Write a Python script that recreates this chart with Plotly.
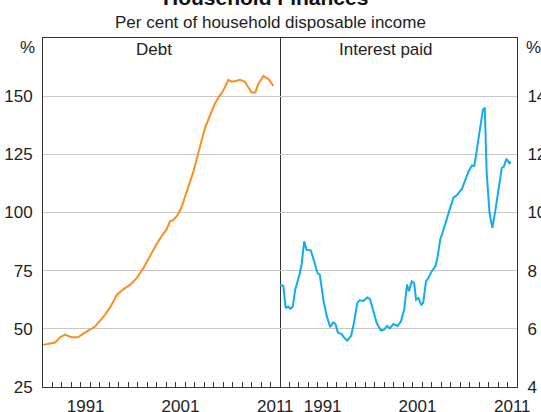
import plotly.graph_objects as go

# Household debt, per cent of disposable income (decimal year, value)
debt_year = [1987.03, 1988.27, 1988.8, 1989.3, 1990.0, 1990.7, 1991.4, 1992.0, 1992.5,
             1993.4, 1994.1, 1994.8, 1995.5, 1996.2, 1996.9, 1997.6, 1998.3, 1999.0,
             1999.5, 2000.05, 2000.4, 2000.75, 2001.2, 2001.6, 2002.0, 2002.5, 2002.9,
             2003.2, 2003.56, 2004.1, 2004.6, 2005.1, 2005.5, 2006.0, 2006.55, 2006.9,
             2007.4, 2007.8, 2008.3, 2008.65, 2009.0, 2009.4, 2009.7, 2010.25, 2010.8,
             2011.3]
debt_value = [43.1, 44.1, 46.4, 47.5, 46.4, 46.4, 48.4, 49.9, 51.0,
              55.3, 59.3, 64.7, 67.1, 69.0, 71.9, 76.2, 81.5, 86.6,
              89.8, 92.7, 96.3, 96.7, 99.0, 102.0, 107.0, 113.0, 118.0,
              122.8, 128.6, 136.5, 141.5, 146.6, 149.4, 152.3, 157.0, 156.2,
              156.6, 157.0, 156.2, 153.8, 151.6, 151.6, 155.2, 158.7, 157.3,
              154.4]

# Interest paid, per cent of disposable income (decimal year, value)
interest_year = [1987.0, 1987.35, 1987.6, 1987.85, 1988.1, 1988.35, 1988.6, 1989.05, 1989.3,
                 1989.55, 1989.8, 1990.25, 1990.6, 1990.95, 1991.2, 1991.6, 1991.95, 1992.3,
                 1992.6, 1992.85, 1993.1, 1993.5, 1993.8, 1994.1, 1994.5, 1994.8, 1995.15,
                 1995.4, 1995.8, 1996.2, 1996.5, 1996.8, 1997.2, 1997.65, 1997.97, 1998.3,
                 1998.6, 1998.95, 1999.4, 1999.75, 2000.1, 2000.4, 2000.6, 2000.9, 2001.15,
                 2001.35, 2001.6, 2001.9, 2002.1, 2002.4, 2002.65, 2003.0, 2003.4, 2003.6,
                 2003.9, 2004.25, 2004.6, 2004.95, 2005.3, 2005.65, 2006.2, 2006.55, 2006.9,
                 2007.25, 2007.5, 2007.85, 2008.15, 2008.4, 2008.6, 2008.8, 2009.1, 2009.4,
                 2009.7, 2010.05, 2010.4, 2010.6, 2010.9, 2011.2, 2011.35]
interest_value = [7.52, 7.48, 6.71, 6.77, 6.69, 6.77, 7.34, 7.86, 8.26,
                  9.01, 8.72, 8.70, 8.32, 7.92, 7.86, 6.94, 6.42, 6.06,
                  6.22, 6.17, 5.87, 5.82, 5.68, 5.60, 5.76, 6.20, 6.89,
                  6.98, 6.96, 7.08, 7.02, 6.66, 6.20, 5.94, 5.97, 6.10,
                  6.02, 6.17, 6.10, 6.25, 6.66, 7.52, 7.29, 7.63, 7.57,
                  7.00, 7.06, 6.83, 6.89, 7.63, 7.75, 7.98, 8.15, 8.44,
                  9.07, 9.41, 9.82, 10.16, 10.51, 10.59, 10.82, 11.14, 11.42,
                  11.62, 11.60, 12.34, 13.03, 13.53, 13.61, 11.37, 9.99, 9.47,
                  10.04, 10.79, 11.54, 11.57, 11.85, 11.69, 11.75]

left_ticks = [25, 50, 75, 100, 125, 150]
right_ticks = [4, 6, 8, 10, 12, 14]
year_labels = ["1991", "2001", "2011"]
year_label_pos = [1991.5, 2001.5, 2011.5]
year_ticks = list(range(1988, 2012))

FONT = "Liberation Sans, Arial, sans-serif"
TXT = "#222222"
LINE = "#333333"
GRID = "#c8c8c8"
FS = 17

fig = go.Figure()
fig.add_trace(go.Scatter(x=debt_year, y=debt_value, mode="lines",
                         line=dict(color="#F7901E", width=2), xaxis="x", yaxis="y",
                         showlegend=False, hoverinfo="skip"))
fig.add_trace(go.Scatter(x=interest_year, y=interest_value, mode="lines",
                         line=dict(color="#12ACEC", width=2), xaxis="x2", yaxis="y2",
                         showlegend=False, hoverinfo="skip"))

xcommon = dict(range=[1987, 2012], tickvals=year_label_pos, ticktext=year_labels,
               ticks="", showgrid=False, zeroline=False, showline=True, mirror=True,
               linecolor=LINE, linewidth=1, ticklabelstandoff=4,
               tickfont=dict(family=FONT, size=FS, color=TXT),
               minor=dict(tickvals=year_ticks, ticks="inside", ticklen=5,
                          tickcolor=LINE, showgrid=False),
               fixedrange=True)
ycommon = dict(showgrid=True, gridcolor=GRID, gridwidth=1, zeroline=False,
               showline=True, linecolor=LINE, linewidth=1, ticks="",
               ticklabelstandoff=6, tickfont=dict(family=FONT, size=FS, color=TXT),
               fixedrange=True)

fig.update_layout(
    width=541, height=412,
    margin=dict(l=43, r=24, t=38, b=25, autoexpand=False),
    paper_bgcolor="white", plot_bgcolor="white",
    xaxis=dict(domain=[0, 0.5], anchor="y", **xcommon),
    xaxis2=dict(domain=[0.5, 1], anchor="y2", **xcommon),
    # the left panel's mirrored axis line forms the divider between the panels
    yaxis=dict(domain=[0, 1], anchor="x", range=[25, 175], tickvals=left_ticks,
               side="left", mirror=True, **ycommon),
    yaxis2=dict(domain=[0, 1], anchor="x2", range=[4, 16], tickvals=right_ticks,
                side="right", mirror=False, **ycommon),
)

ann_font = dict(family=FONT, size=FS, color=TXT)
fig.add_annotation(text="<b>Household Finances</b>", xref="paper", yref="paper",
                   x=0.469, y=1.0 + 27 / 349, xanchor="center", yanchor="bottom",
                   showarrow=False, font=dict(family=FONT, size=21, color="#111111"))
fig.add_annotation(text="Per cent of household disposable income", xref="paper", yref="paper",
                   x=0.479, y=1.0 + 16 / 349, xanchor="center", yanchor="middle",
                   showarrow=False, font=ann_font)
fig.add_annotation(text="Debt", xref="paper", yref="paper", x=(154 - 43) / 474,
                   y=1.0 - 11 / 349, xanchor="center", yanchor="middle",
                   showarrow=False, font=ann_font)
fig.add_annotation(text="Interest paid", xref="paper", yref="paper", x=(386 - 43) / 474,
                   y=1.0 - 11 / 349, xanchor="center", yanchor="middle",
                   showarrow=False, font=ann_font)
fig.add_annotation(text="%", xref="paper", yref="paper", x=-6 / 474, y=1.0 + 2 / 349,
                   xanchor="right", yanchor="top", showarrow=False, font=ann_font)
fig.add_annotation(text="%", xref="paper", yref="paper", x=1.0 + 7 / 474, y=1.0 + 2 / 349,
                   xanchor="left", yanchor="top", showarrow=False, font=ann_font)

fig.write_html("out.html")
